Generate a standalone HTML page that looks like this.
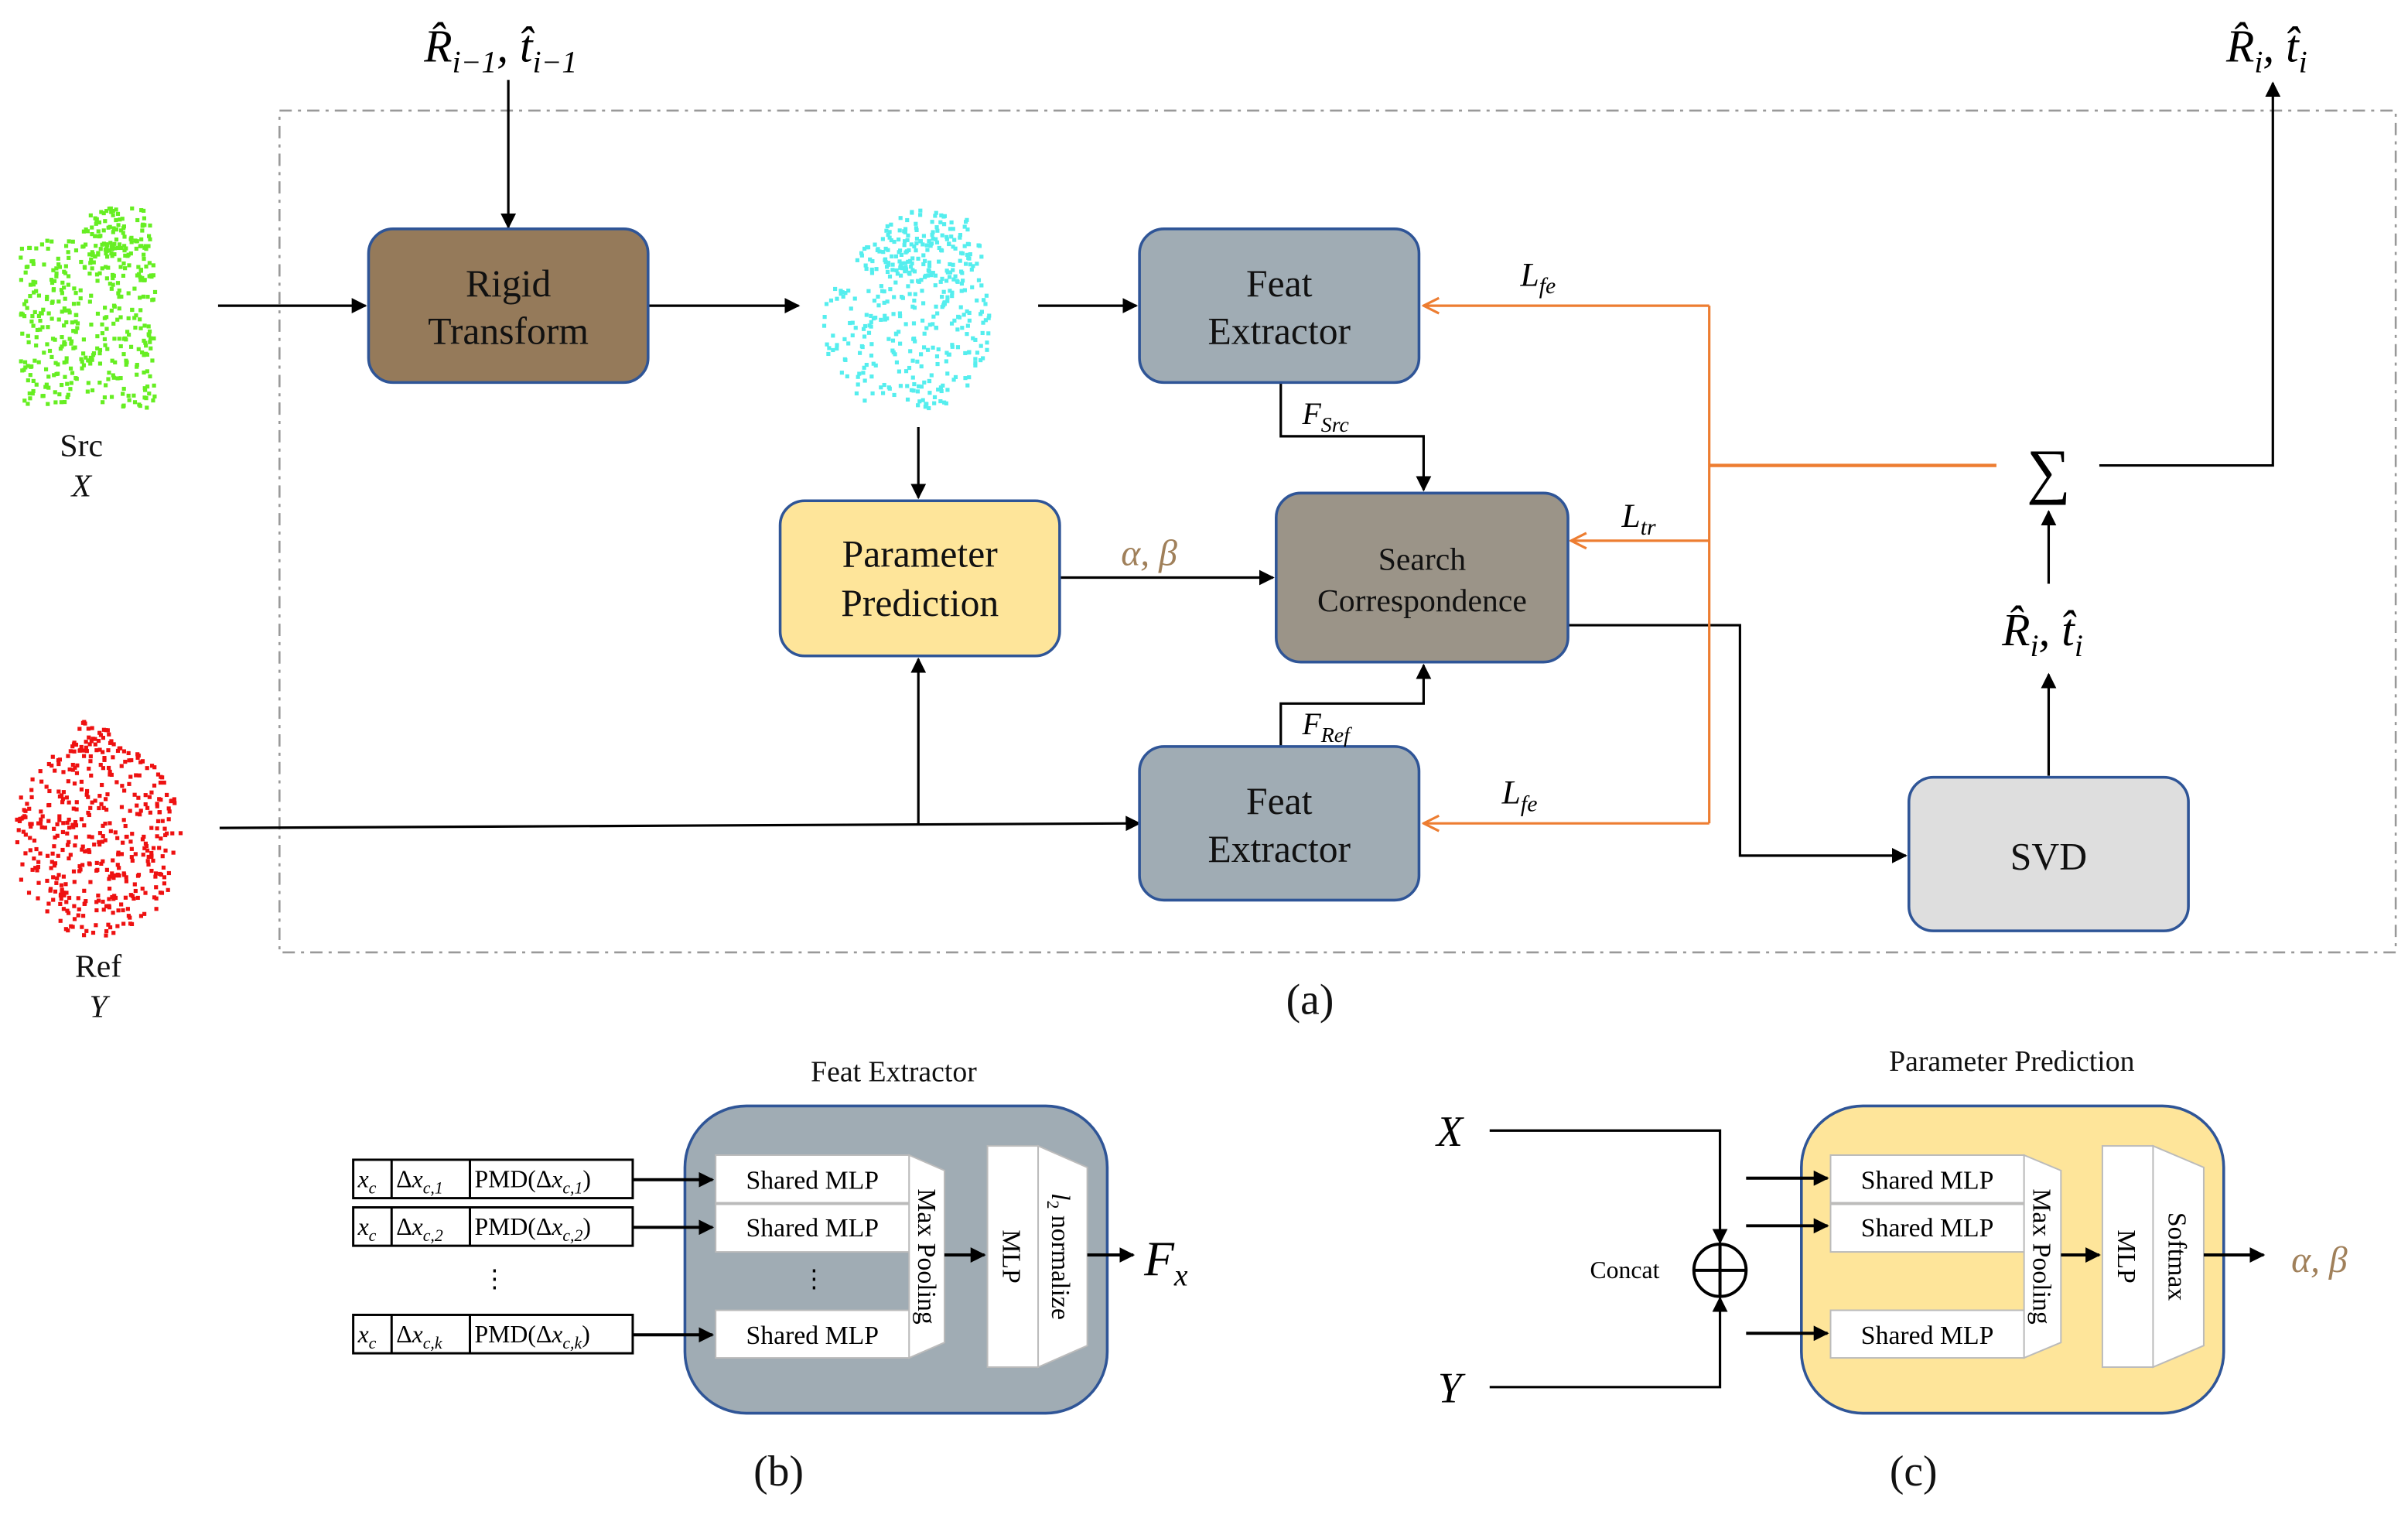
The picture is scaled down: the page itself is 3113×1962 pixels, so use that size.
<!DOCTYPE html>
<html><head><meta charset="utf-8"><style>
html,body{margin:0;padding:0;background:#fff;}
svg, svg text, svg tspan{font-family:"Liberation Serif","DejaVu Serif",serif !important;}
</style></head><body>
<svg id="s" width="3113" height="1957" viewBox="0 0 1568 985.7" xmlns="http://www.w3.org/2000/svg" font-family="Liberation Serif, serif">
<defs>
<marker id="a" viewBox="0 0 10 10" refX="9" refY="5" markerWidth="10" markerHeight="10" markerUnits="userSpaceOnUse" orient="auto"><path d="M0,0 L10,5 L0,10 z" fill="#000"/></marker>
<marker id="o" viewBox="0 0 12 12" refX="11" refY="6" markerWidth="12" markerHeight="12" markerUnits="userSpaceOnUse" orient="auto"><path d="M1,1 L11,6 L1,11" fill="none" stroke="#ed7d31" stroke-width="1.6"/></marker>
</defs>
<rect x="182" y="72" width="1378" height="548" fill="none" stroke="#999" stroke-width="1.3" stroke-dasharray="8,4,2,4"/>
<g id="clouds"></g>
<text x="326" y="40" font-size="30" text-anchor="middle" font-style="italic">R̂<tspan font-size="20" dy="7">i−1</tspan><tspan dy="-7">, t̂</tspan><tspan font-size="20" dy="7">i−1</tspan></text>
<text x="1476" y="40" font-size="30" text-anchor="middle" font-style="italic">R̂<tspan font-size="20" dy="7">i</tspan><tspan dy="-7">, t̂</tspan><tspan font-size="20" dy="7">i</tspan></text>
<text x="1330" y="420" font-size="30" text-anchor="middle" font-style="italic">R̂<tspan font-size="20" dy="7">i</tspan><tspan dy="-7">, t̂</tspan><tspan font-size="20" dy="7">i</tspan></text>
<g stroke="#000" stroke-width="1.6" fill="none">
<line x1="331" y1="52" x2="331" y2="148" marker-end="url(#a)"/>
<line x1="142" y1="199" x2="238" y2="199" marker-end="url(#a)"/>
<line x1="422" y1="199" x2="520" y2="199" marker-end="url(#a)"/>
<line x1="676" y1="199" x2="740" y2="199" marker-end="url(#a)"/>
<line x1="598" y1="278" x2="598" y2="324" marker-end="url(#a)"/>
<line x1="690" y1="376" x2="829" y2="376" marker-end="url(#a)"/>
<polyline points="834,249 834,284 927,284 927,319" marker-end="url(#a)"/>
<polyline points="834,486 834,458 927,458 927,433" marker-end="url(#a)"/>
<polyline points="143,539 742,536" marker-end="url(#a)"/>
<line x1="598" y1="537" x2="598" y2="429" marker-end="url(#a)"/>
<polyline points="1021,407 1133,407 1133,557 1241,557" marker-end="url(#a)"/>
<polyline points="1367,303 1480,303 1480,54" marker-end="url(#a)"/>
<line x1="1334" y1="380" x2="1334" y2="333" marker-end="url(#a)"/>
<line x1="1334" y1="505" x2="1334" y2="439" marker-end="url(#a)"/>
</g>
<g stroke="#ed7d31" stroke-width="1.6" fill="none">
<polyline points="1113,199 1113,536"/>
<line x1="1113" y1="199" x2="927" y2="199" marker-end="url(#o)"/>
<line x1="1113" y1="352" x2="1023" y2="352" marker-end="url(#o)"/>
<line x1="1113" y1="536" x2="927" y2="536" marker-end="url(#o)"/>
<line x1="1113" y1="303" x2="1300" y2="303" stroke-width="2.2"/>
</g>
<text x="1334" y="320" font-size="40" text-anchor="middle">∑</text>
<g stroke="#2f5597" stroke-width="1.8">
<rect x="240" y="149" width="182" height="100" rx="16" fill="#957a5a"/>
<rect x="742" y="149" width="182" height="100" rx="16" fill="#a0acb4"/>
<rect x="508" y="326" width="182" height="101" rx="16" fill="#fee59a"/>
<rect x="831" y="321" width="190" height="110" rx="16" fill="#9b9488"/>
<rect x="742" y="486" width="182" height="100" rx="16" fill="#a0acb4"/>
<rect x="1243" y="506" width="182" height="100" rx="16" fill="#dedede"/>
<rect x="446" y="720" width="275" height="200" rx="40" fill="#a0acb4"/>
<rect x="1173" y="720" width="275" height="200" rx="40" fill="#fee59a"/>
</g>
<g font-size="25" text-anchor="middle" fill="#111" font-family="Liberation Serif, serif" style="font-family:'Liberation Serif',serif">
<text x="331" y="193">Rigid</text><text x="331" y="224">Transform</text>
<text x="833" y="193">Feat</text><text x="833" y="224">Extractor</text>
<text x="599" y="369">Parameter</text><text x="599" y="401">Prediction</text>
<text x="833" y="530">Feat</text><text x="833" y="561">Extractor</text>
<text x="1334" y="566">SVD</text>
<text x="926" y="371" font-size="21">Search</text><text x="926" y="398" font-size="21">Correspondence</text>
<text x="53" y="297" font-size="21">Src</text><text x="53" y="323" font-size="21" font-style="italic">X</text>
<text x="64" y="636" font-size="21">Ref</text><text x="64" y="662" font-size="21" font-style="italic">Y</text>
<text x="853" y="660" font-size="28">(a)</text>
<text x="507" y="967" font-size="28">(b)</text>
<text x="1246" y="967" font-size="28">(c)</text>
<text x="582" y="704" font-size="19">Feat Extractor</text>
<text x="1310" y="697" font-size="19">Parameter Prediction</text>
</g>
<g font-style="italic" font-size="20">
<text x="730" y="368" fill="#a0805a" font-size="24">α, β</text>
<text x="848" y="276">F<tspan font-size="14" dy="5">Src</tspan></text>
<text x="848" y="478">F<tspan font-size="14" dy="5">Ref</tspan></text>
<text x="990" y="186" font-size="22">L<tspan font-size="15" dy="5">fe</tspan></text>
<text x="1056" y="343" font-size="22">L<tspan font-size="15" dy="5">tr</tspan></text>
<text x="978" y="523" font-size="22">L<tspan font-size="15" dy="5">fe</tspan></text>
</g>
<g stroke="#000" stroke-width="1.5" fill="#fff">
<rect x="230" y="755" width="182" height="25"/><line x1="255" y1="755" x2="255" y2="780"/><line x1="306" y1="755" x2="306" y2="780"/>
<rect x="230" y="786" width="182" height="25"/><line x1="255" y1="786" x2="255" y2="811"/><line x1="306" y1="786" x2="306" y2="811"/>
<rect x="230" y="856" width="182" height="25"/><line x1="255" y1="856" x2="255" y2="881"/><line x1="306" y1="856" x2="306" y2="881"/>
</g>
<g font-size="16">
<text x="233" y="773" font-style="italic">x<tspan font-size="11" dy="4">c</tspan></text>
<text x="258" y="773">Δ<tspan font-style="italic">x</tspan><tspan font-size="11" dy="4" font-style="italic">c,1</tspan></text>
<text x="309" y="773">PMD(Δ<tspan font-style="italic">x</tspan><tspan font-size="11" dy="4" font-style="italic">c,1</tspan><tspan dy="-4">)</tspan></text>
<text x="233" y="804" font-style="italic">x<tspan font-size="11" dy="4">c</tspan></text>
<text x="258" y="804">Δ<tspan font-style="italic">x</tspan><tspan font-size="11" dy="4" font-style="italic">c,2</tspan></text>
<text x="309" y="804">PMD(Δ<tspan font-style="italic">x</tspan><tspan font-size="11" dy="4" font-style="italic">c,2</tspan><tspan dy="-4">)</tspan></text>
<text x="233" y="874" font-style="italic">x<tspan font-size="11" dy="4">c</tspan></text>
<text x="258" y="874">Δ<tspan font-style="italic">x</tspan><tspan font-size="11" dy="4" font-style="italic">c,k</tspan></text>
<text x="309" y="874">PMD(Δ<tspan font-style="italic">x</tspan><tspan font-size="11" dy="4" font-style="italic">c,k</tspan><tspan dy="-4">)</tspan></text>
</g>
<text x="322" y="838" font-size="16" text-anchor="middle">⋮</text>
<text x="530" y="838" font-size="16" text-anchor="middle">⋮</text>
<g fill="#fff" stroke="#bbb" stroke-width="1">
<rect x="466" y="752" width="126" height="31"/><rect x="466" y="784" width="126" height="31"/><rect x="466" y="853" width="126" height="31"/>
<path d="M592,752 L615,762 L615,874 L592,884 z"/>
<rect x="643" y="746" width="33" height="144"/>
<path d="M676,746 L708,760 L708,876 L676,890 z"/>
<rect x="1192" y="752" width="126" height="31"/><rect x="1192" y="784" width="126" height="31"/><rect x="1192" y="853" width="126" height="31"/>
<path d="M1318,752 L1342,762 L1342,874 L1318,884 z"/>
<rect x="1369" y="746" width="33" height="144"/>
<path d="M1402,746 L1435,760 L1435,876 L1402,890 z"/>
</g>
<g font-size="17" text-anchor="middle">
<text x="529" y="774">Shared MLP</text><text x="529" y="805">Shared MLP</text><text x="529" y="875">Shared MLP</text>
<text x="1255" y="774">Shared MLP</text><text x="1255" y="805">Shared MLP</text><text x="1255" y="875">Shared MLP</text>
<text transform="translate(598,818) rotate(90)">Max Pooling</text>
<text transform="translate(1324,818) rotate(90)">Max Pooling</text>
<text transform="translate(653,818) rotate(90)">MLP</text>
<text transform="translate(1379,818) rotate(90)">MLP</text>
<text transform="translate(685,818) rotate(90)"><tspan font-style="italic">l</tspan><tspan font-size="11" dy="3">2</tspan><tspan dy="-3"> normalize</tspan></text>
<text transform="translate(1412,818) rotate(90)">Softmax</text>
</g>
<g stroke="#000" stroke-width="2" fill="none">
<line x1="412" y1="768" x2="464" y2="768" marker-end="url(#a)"/>
<line x1="412" y1="799" x2="464" y2="799" marker-end="url(#a)"/>
<line x1="412" y1="869" x2="464" y2="869" marker-end="url(#a)"/>
<line x1="615" y1="817" x2="641" y2="817" marker-end="url(#a)"/>
<line x1="708" y1="817" x2="738" y2="817" marker-end="url(#a)"/>
<line x1="1137" y1="767" x2="1190" y2="767" marker-end="url(#a)"/>
<line x1="1137" y1="798" x2="1190" y2="798" marker-end="url(#a)"/>
<line x1="1137" y1="868" x2="1190" y2="868" marker-end="url(#a)"/>
<line x1="1342" y1="817" x2="1367" y2="817" marker-end="url(#a)"/>
<line x1="1435" y1="817" x2="1474" y2="817" marker-end="url(#a)"/>
<polyline points="970,736 1120,736 1120,809" stroke-width="1.6" marker-end="url(#a)"/>
<polyline points="970,903 1120,903 1120,845" stroke-width="1.6" marker-end="url(#a)"/>
<circle cx="1120" cy="827" r="17"/>
<line x1="1103" y1="827" x2="1137" y2="827"/><line x1="1120" y1="810" x2="1120" y2="844"/>
</g>
<text x="745" y="830" font-size="32" font-style="italic">F<tspan font-size="20" dy="7">x</tspan></text>
<text x="944" y="746" font-size="28" font-style="italic" text-anchor="middle">X</text>
<text x="944" y="913" font-size="28" font-style="italic" text-anchor="middle">Y</text>
<text x="1058" y="832" font-size="16" text-anchor="middle">Concat</text>
<text x="1492" y="828" font-size="24" font-style="italic" fill="#a0805a">α, β</text>
</svg>
<script>
(function(){
var s=12345;function r(){s=(s*16807)%2147483647;return s/2147483647;}
var g=document.getElementById('clouds'),h='';
function cloud(n,cx,cy,rx,ry,col,sq){
 for(var i=0;i<n;i++){var x,y;
  if(sq){x=cx-rx+2*rx*r();y=cy-ry+2*ry*r();}
  else{do{x=2*r()-1;y=2*r()-1;}while(x*x+y*y>1);x=cx+x*rx;y=cy+y*ry;}
  h+='<rect x="'+x.toFixed(1)+'" y="'+y.toFixed(1)+'" width="2.6" height="2.6" fill="'+col+'"/>';}
}
cloud(380,56,210,44,55,'#66ee22',true);
cloud(90,75,150,22,16,'#66ee22',true);
cloud(300,590,210,55,58,'#55eeee',false);
cloud(130,605,160,35,25,'#55eeee',false);
cloud(420,62,545,55,64,'#ee1111',false);
cloud(30,60,478,15,12,'#ee1111',false);
g.innerHTML=h;
})();
</script>
</body></html>
